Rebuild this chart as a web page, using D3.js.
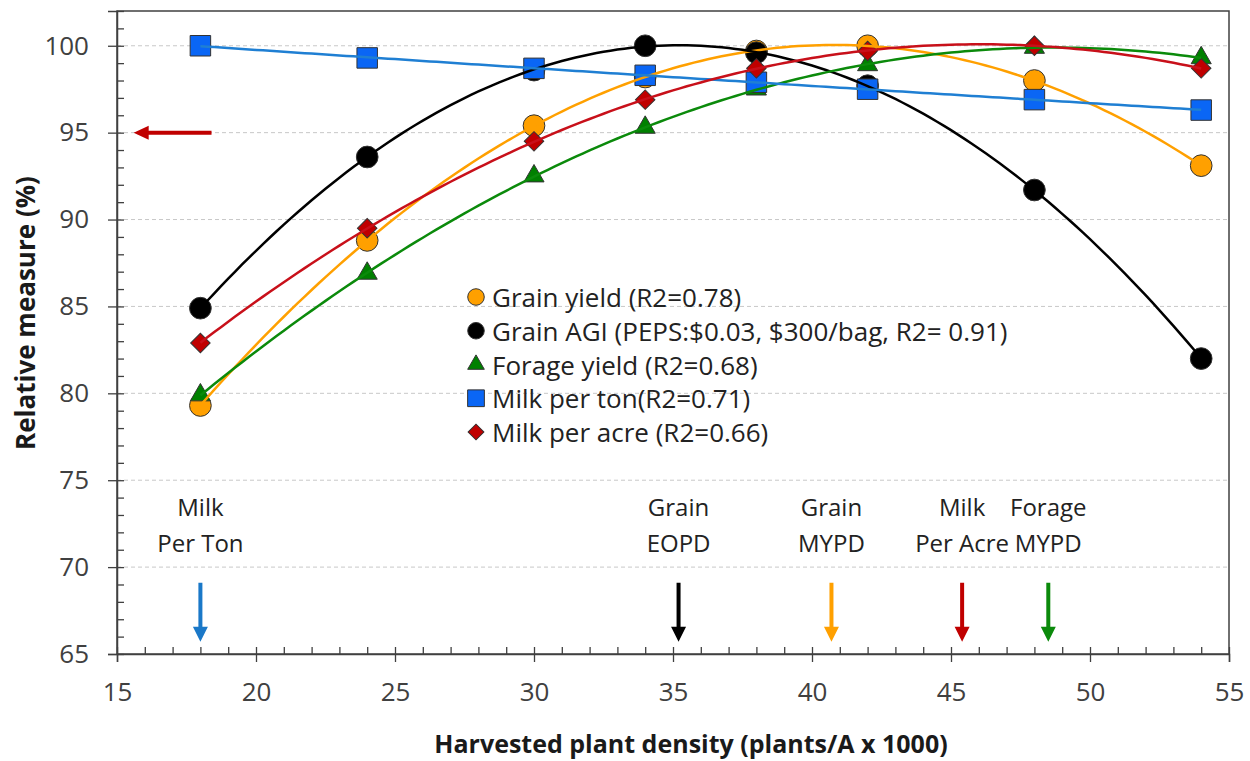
<!DOCTYPE html>
<html>
<head>
<meta charset="utf-8">
<script src="https://cdn.jsdelivr.net/npm/d3@7"></script>
<style>
  body { margin: 0; background: #fff; }
  svg { display: block; font-family: "Open Sans", Lato, sans-serif; }
</style>
</head>
<body>
<svg width="1250" height="761"></svg>
<script>
// plant densities (x 1000 plants/A)
var densities = [18, 24, 30, 34, 38, 42, 48, 54];

// relative measures (%)
var grainYield  = [79.3, 88.8, 95.4, 98.2, 99.7, 100.0, 98.0, 93.1];
var grainAGI    = [84.9, 93.6, 98.6, 100.0, 99.6, 97.7, 91.7, 82.0];
var forageYield = [79.9, 86.9, 92.5, 95.3, 97.5, 98.9, 99.9, 99.3];
var milkPerTon  = [100.0, 99.3, 98.7, 98.3, 97.9, 97.5, 96.9, 96.3];
var milkPerAcre = [82.9, 89.5, 94.5, 96.9, 98.7, 99.7, 100.0, 98.7];

var seriesNames = [
  "Grain yield (R2=0.78)",
  "Grain AGI (PEPS:$0.03, $300/bag, R2= 0.91)",
  "Forage yield (R2=0.68)",
  "Milk per ton(R2=0.71)",
  "Milk per acre (R2=0.66)"
];

// optimum densities marked with arrows
var optLabels = [["Milk", "Per Ton"], ["Grain", "EOPD"], ["Grain", "MYPD"], ["Milk", "Per Acre"], ["Forage", "MYPD"]];
var optX = [18, 35.2, 40.7, 45.4, 48.5];

var xTicks = [15, 20, 25, 30, 35, 40, 45, 50, 55];
var yTicks = [65, 70, 75, 80, 85, 90, 95, 100];

var series = [
  {name: seriesNames[0], vals: grainYield,  fill: "#ffa000", line: "#ffa000", shape: "circle"},
  {name: seriesNames[1], vals: grainAGI,    fill: "#000000", line: "#000000", shape: "circle"},
  {name: seriesNames[2], vals: forageYield, fill: "#008000", line: "#0b8a0b", shape: "triangle"},
  {name: seriesNames[3], vals: milkPerTon,  fill: "#0a66f5", line: "#1f7fd3", shape: "square"},
  {name: seriesNames[4], vals: milkPerAcre, fill: "#c00000", line: "#c8101a", shape: "diamond"}
];
var arrowColors = ["#1a78c8", "#000000", "#ffa000", "#c00000", "#0b8a0b"];

var svg = d3.select("svg");
var plotL = 117, plotR = 1229, plotT = 11, plotB = 654;

var x = d3.scaleLinear().domain([15, 55]).range([plotL, plotR]);
var y = d3.scaleLinear().domain([65, 102]).range([plotB, plotT]);

// gridlines
svg.append("g")
  .selectAll("line")
  .data(yTicks.filter(function(d) { return d > 65; }))
  .enter().append("line")
  .attr("x1", plotL).attr("x2", plotR)
  .attr("y1", function(d) { return y(d); })
  .attr("y2", function(d) { return y(d); })
  .attr("stroke", "#c8c8c8")
  .attr("stroke-width", 1)
  .attr("stroke-dasharray", "4,3");

// frame
svg.append("rect")
  .attr("x", plotL).attr("y", plotT)
  .attr("width", plotR - plotL).attr("height", plotB - plotT)
  .attr("fill", "none")
  .attr("stroke", "#404040")
  .attr("stroke-width", 1.5);

// y axis: major ticks outside + labels
var yAxis = svg.append("g")
  .attr("transform", "translate(" + plotL + ",0)")
  .call(d3.axisLeft(y).tickValues(yTicks).tickSize(9).tickPadding(19));
// inner ticks every 1
svg.append("g")
  .attr("transform", "translate(" + plotL + ",0)")
  .call(d3.axisRight(y).tickValues(d3.range(65, 103)).tickSize(7).tickFormat(""))
  .call(function(g) { g.select(".domain").remove(); });

var xAxis = svg.append("g")
  .attr("transform", "translate(0," + plotB + ")")
  .call(d3.axisBottom(x).tickValues(xTicks).tickSize(8).tickPadding(21));
svg.append("g")
  .attr("transform", "translate(0," + plotB + ")")
  .call(d3.axisTop(x).tickValues(d3.range(15, 56)).tickSize(7).tickFormat(""))
  .call(function(g) { g.select(".domain").remove(); });

svg.selectAll(".tick line").attr("stroke", "#404040").attr("stroke-width", 1.3);
svg.selectAll(".domain").attr("stroke", "#404040").attr("stroke-width", 1.5);
[yAxis, xAxis].forEach(function(g) {
  g.attr("font-family", null).attr("font-size", null);
  g.selectAll("text").attr("font-size", 26).attr("fill", "#404040");
});

// axis titles
svg.append("text")
  .attr("transform", "translate(25,313) rotate(-90)")
  .attr("text-anchor", "middle")
  .attr("dominant-baseline", "central")
  .attr("font-size", 26).attr("font-weight", "bold").attr("fill", "#1a1a1a")
  .text("Relative measure (%)");
svg.append("text")
  .attr("x", 691).attr("y", 743)
  .attr("text-anchor", "middle")
  .attr("dominant-baseline", "central")
  .attr("font-size", 25).attr("font-weight", "bold").attr("fill", "#1a1a1a")
  .text("Harvested plant density (plants/A x 1000)");

// markers
function symbolFor(shape, big) {
  if (shape == "circle") return d3.symbol(d3.symbolCircle, big ? 370 : 215)();
  if (shape == "square") return d3.symbol(d3.symbolSquare, big ? 420 : 280)();
  if (shape == "triangle") return d3.symbol(d3.symbolTriangle, big ? 175 : 120)();
  return d3.symbol(d3.symbolSquare, big ? 190 : 125)();
}

series.forEach(function(s) {
  svg.append("g")
    .selectAll("path")
    .data(s.vals)
    .enter().append("path")
    .attr("d", symbolFor(s.shape, true))
    .attr("transform", function(d, i) {
      return "translate(" + x(densities[i]) + "," + y(d) + ")" + (s.shape == "diamond" ? " rotate(45)" : "");
    })
    .attr("fill", s.fill)
    .attr("stroke", "#333")
    .attr("stroke-width", 1);
});

// quadratic trendlines (least squares, like the spreadsheet trendline)
function quadFit(xv, yv) {
  var n = xv.length, sx = 0, sx2 = 0, sx3 = 0, sx4 = 0, sy = 0, sxy = 0, sx2y = 0;
  for (var i = 0; i < n; i++) {
    var a = xv[i], b = yv[i];
    sx += a; sx2 += a*a; sx3 += a*a*a; sx4 += a*a*a*a;
    sy += b; sxy += a*b; sx2y += a*a*b;
  }
  var M = [[n, sx, sx2, sy], [sx, sx2, sx3, sxy], [sx2, sx3, sx4, sx2y]];
  for (var c = 0; c < 3; c++) {
    for (var r = c + 1; r < 3; r++) {
      var f = M[r][c] / M[c][c];
      for (var k = c; k < 4; k++) M[r][k] -= f * M[c][k];
    }
  }
  var co = [0, 0, 0];
  for (var r2 = 2; r2 >= 0; r2--) {
    var s = M[r2][3];
    for (var k2 = r2 + 1; k2 < 3; k2++) s -= M[r2][k2] * co[k2];
    co[r2] = s / M[r2][r2];
  }
  return function(t) { return co[0] + co[1]*t + co[2]*t*t; };
}

var line = d3.line()
  .x(function(d) { return x(d); });

series.forEach(function(s) {
  var fit = quadFit(densities, s.vals);
  var xsFine = d3.range(densities[0], densities[densities.length - 1] + 0.01, 0.25);
  svg.append("path")
    .datum(xsFine)
    .attr("d", line.y(function(d) { return y(fit(d)); }))
    .attr("fill", "none")
    .attr("stroke", s.line)
    .attr("stroke-width", 2.5);
});

// legend
var legend = svg.append("g").attr("transform", "translate(476,297)");
series.forEach(function(s, i) {
  var row = legend.append("g").attr("transform", "translate(0," + (i * 33.75) + ")");
  row.append("path")
    .attr("d", symbolFor(s.shape, false))
    .attr("transform", s.shape == "diamond" ? "rotate(45)" : null)
    .attr("fill", s.fill)
    .attr("stroke", "#333")
    .attr("stroke-width", 1);
  row.append("text")
    .attr("x", 16)
    .attr("dominant-baseline", "central")
    .attr("font-size", 26)
    .attr("fill", "#222")
    .text(s.name);
});

// arrows
function downArrow(cx, y0, y1) {
  var hw = 7.5, hl = 15, sw = 2;
  return "M" + (cx - sw) + "," + y0 + "L" + (cx + sw) + "," + y0 +
    "L" + (cx + sw) + "," + (y1 - hl) + "L" + (cx + hw) + "," + (y1 - hl) +
    "L" + cx + "," + y1 + "L" + (cx - hw) + "," + (y1 - hl) +
    "L" + (cx - sw) + "," + (y1 - hl) + "Z";
}
optX.forEach(function(v, i) {
  svg.append("path")
    .attr("d", downArrow(x(v), y(69.1), y(65.7)))
    .attr("fill", arrowColors[i]);
  var lbl = svg.append("text")
    .attr("text-anchor", "middle")
    .attr("font-size", 24)
    .attr("fill", "#222");
  lbl.append("tspan").attr("x", x(v)).attr("y", 506).attr("dominant-baseline", "central").text(optLabels[i][0]);
  lbl.append("tspan").attr("x", x(v)).attr("y", 542).attr("dominant-baseline", "central").text(optLabels[i][1]);
});

// left-pointing arrow at 95%
(function() {
  var x0 = x(18.4), x1 = x(15.6), cy = y(95), hw = 7, hl = 15, sw = 2;
  svg.append("path")
    .attr("d", "M" + x0 + "," + (cy - sw) + "L" + (x1 + hl) + "," + (cy - sw) + "L" + (x1 + hl) + "," + (cy - hw) +
      "L" + x1 + "," + cy + "L" + (x1 + hl) + "," + (cy + hw) + "L" + (x1 + hl) + "," + (cy + sw) +
      "L" + x0 + "," + (cy + sw) + "Z")
    .attr("fill", "#c00000");
})();
</script>
</body>
</html>
